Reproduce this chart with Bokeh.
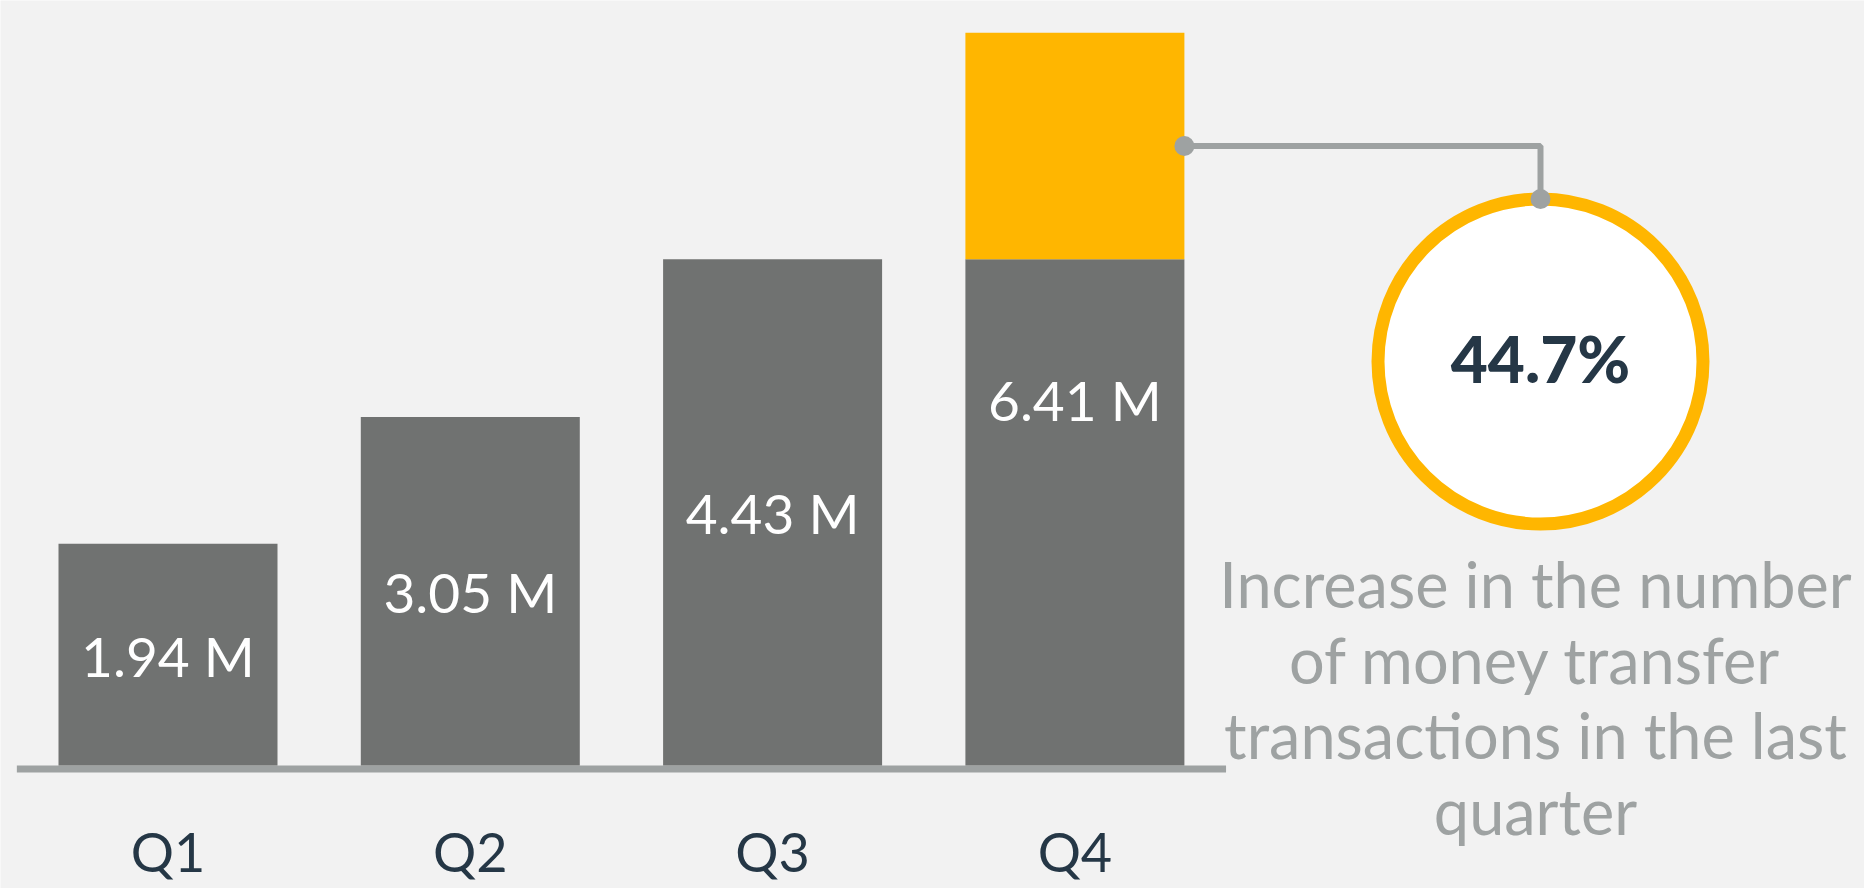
from bokeh.plotting import figure
from bokeh.models import Range1d
from bokeh.core.properties import value
from bokeh.embed import file_html
from bokeh.resources import INLINE

# ---------------- data ----------------
quarters = ["Q1", "Q2", "Q3", "Q4"]
transactions_m = [1.94, 3.05, 4.43, 6.41]          # money transfer transactions, millions
value_labels = ["1.94 M", "3.05 M", "4.43 M", "6.41 M"]
increase_label = "44.7%"
description_lines = [
    "Increase in the number",
    "of money transfer",
    "transactions in the last",
    "quarter",
]

# ---------------- styling / layout ----------------
BG = "#F2F2F2"
BAR = "#707271"
YELLOW = "#FFB600"
CONNECT = "#9EA2A2"
NAVY = "#253746"
FONT = "Lato"
FONT_HEAVY = "Lato Black, Lato"

W, H = 1864, 888
SLOT_PX = 302.3          # pixels per category slot
X0_PX = 167.5            # canvas x of first category centre
UNIT_PX = 114.3          # pixels per million
BASE_PX = 123.0          # distance of baseline from canvas bottom
BAR_W = 219.0 / SLOT_PX
TXT_SHIFT = -24          # compensation for text baseline placement

x_range = Range1d(-X0_PX / SLOT_PX, (W - X0_PX) / SLOT_PX)
y_range = Range1d(-BASE_PX / UNIT_PX, (H - BASE_PX) / UNIT_PX)


def px_x(cx):
    """canvas x (px) -> data x"""
    return (cx - X0_PX) / SLOT_PX


def px_y(cy):
    """canvas y from top (px) -> data y"""
    return (H - cy - BASE_PX) / UNIT_PX


p = figure(width=W, height=H, x_range=x_range, y_range=y_range,
           output_backend="svg", toolbar_location=None,
           background_fill_color=BG, border_fill_color=BG,
           min_border=0, outline_line_color=None)
p.axis.visible = False
p.grid.visible = False

xs = list(range(len(quarters)))

# baseline
p.quad(left=[-0.5], right=[len(quarters) - 0.5], top=[0], bottom=[-7 / UNIT_PX],
       fill_color=CONNECT, line_color=None)

# gray bars (Q4 gray part = previous quarter level)
gray_tops = transactions_m[:-1] + [transactions_m[-2]]
p.vbar(x=xs, top=gray_tops, bottom=0, width=BAR_W, fill_color=BAR, line_color=None)

# yellow increase segment of last quarter
p.vbar(x=[xs[-1]], bottom=[transactions_m[-2]], top=[transactions_m[-1]], width=BAR_W,
       fill_color=YELLOW, line_color=None)

# value labels centred in bars
p.text(x=xs, y=[v / 2 for v in transactions_m], text=value_labels,
       text_font=value(FONT), text_font_size="55px", text_color="white",
       text_align="center", text_baseline="alphabetic", y_offset=25 + TXT_SHIFT)

# category labels
p.text(x=xs, y=[0] * len(xs), text=quarters,
       text_font=value(FONT), text_font_size="54px", text_color=NAVY,
       text_align="center", text_baseline="alphabetic", y_offset=110 + TXT_SHIFT)

# callout circle
cx, cy = px_x(1540), px_y(361)
R_PX = 162.5
p.scatter(x=[cx], y=[cy], size=2 * R_PX, marker="circle",
          fill_color="white", line_color=YELLOW, line_width=13)

# connector from middle of increase segment to top of circle
y_mid = (transactions_m[-2] + transactions_m[-1]) / 2
x_edge = xs[-1] + BAR_W / 2
y_top = cy + R_PX / UNIT_PX
p.line(x=[x_edge, cx, cx], y=[y_mid, y_mid, y_top], line_color=CONNECT, line_width=6)
p.scatter(x=[x_edge, cx], y=[y_mid, y_top], size=20, marker="circle",
          fill_color=CONNECT, line_color=None)

# percentage
p.text(x=[cx], y=[cy], text=[increase_label], text_font=value(FONT_HEAVY),
       text_font_size="64px", text_font_style="bold", text_color=NAVY,
       text_align="center", text_baseline="alphabetic", y_offset=21 + TXT_SHIFT)

# description
desc_y = [cy - (246 + 75.7 * k + TXT_SHIFT) / UNIT_PX for k in range(len(description_lines))]
p.text(x=[px_x(1535)] * len(description_lines), y=desc_y, text=description_lines,
       text_font=value(FONT), text_font_size="63px", text_color=CONNECT,
       text_align="center", text_baseline="alphabetic")

open("out.html", "w").write(file_html(p, INLINE))
